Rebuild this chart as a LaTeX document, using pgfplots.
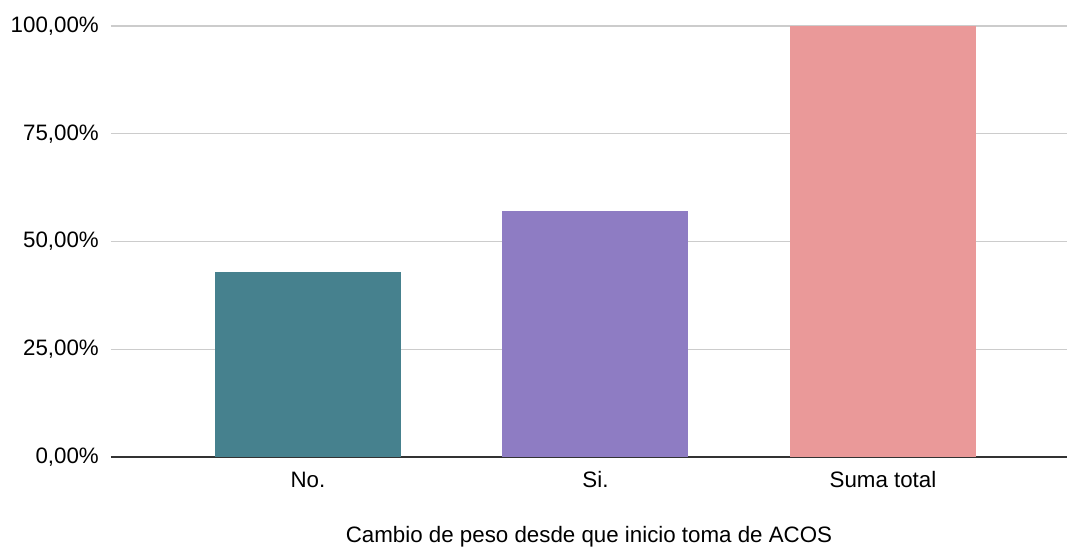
\documentclass[border=0pt]{standalone}
\usepackage{pgfplots}
\pgfplotsset{compat=1.18}
\usepackage{fontspec}
\setmainfont{Liberation Sans}

\definecolor{barteal}{HTML}{46818E}
\definecolor{barpurple}{HTML}{8E7CC3}
\definecolor{barpink}{HTML}{EA9999}
\definecolor{gridgray}{HTML}{CCCCCC}
\definecolor{axisdark}{HTML}{333333}

\begin{document}
\begin{tikzpicture}
\begin{axis}[
    at={(0,0)}, anchor=south west,
    scale only axis,
    width=956bp, height=431bp,
    font=\fontsize{22.4}{26}\selectfont,
    xmin=-0.685, xmax=2.64,
    ymin=0, ymax=100,
    xtick={0,1,2},
    xticklabels={No., Si., Suma total},
    ytick={0,25,50,75,100},
    yticklabels={{0,00\%},{25,00\%},{50,00\%},{75,00\%},{100,00\%}},
    major tick length=0pt,
    ymajorgrids,
    grid style={gridgray, line width=1.3bp},
    axis x line*=bottom,
    axis y line*=left,
    x axis line style={axisdark, line width=1.3bp},
    y axis line style={draw=none},
    xticklabel style={anchor=base, yshift=-30bp},
    yticklabel style={anchor=east, inner sep=0pt, xshift=-12bp},
    xlabel={Cambio de peso desde que inicio toma de ACOS},
    xlabel style={at={(axis description cs:0.5,-0.1995)}, anchor=base},
    ybar, bar width=186bp, bar shift=0pt,
    clip=false,
]
\addplot[draw=none, fill=barteal] coordinates {(0,42.86)};
\addplot[draw=none, fill=barpurple] coordinates {(1,57.14)};
\addplot[draw=none, fill=barpink] coordinates {(2,100)};
\end{axis}
\pgfresetboundingbox
\path (-111bp,-90bp) rectangle (956bp,457bp);
\end{tikzpicture}
\end{document}
